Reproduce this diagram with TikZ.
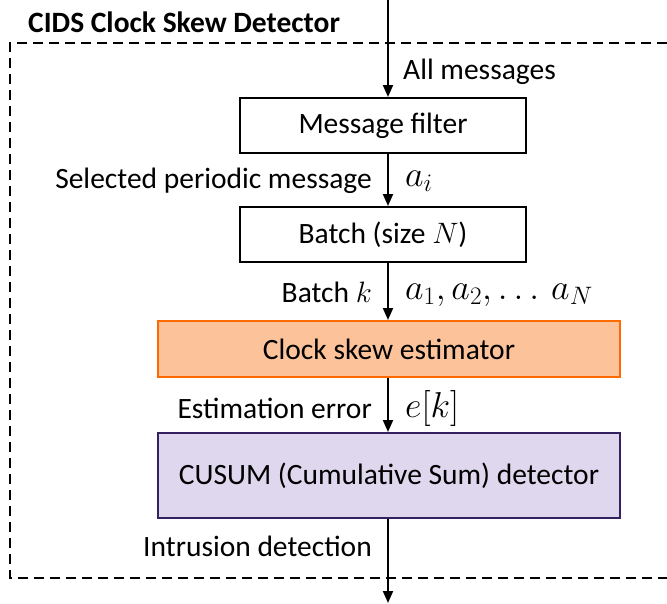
\RequirePackage{fix-cm}
\documentclass[tikz,border=0pt]{standalone}
\usepackage{fontspec}
\setmainfont{Carlito}
\usetikzlibrary{arrows.meta}
\definecolor{orfill}{RGB}{252,194,154}
\definecolor{ordraw}{RGB}{255,106,0}
\definecolor{pufill}{RGB}{222,215,238}
\definecolor{pudraw}{RGB}{52,34,96}
\tikzset{
  stepbox/.style={draw=black, line width=2pt, fill=white, inner sep=0pt, font=\fontsize{29.5}{34}\selectfont},
  lbl/.style={inner sep=0pt, font=\fontsize{29.5}{34}\selectfont},
  mlbl/.style={inner sep=0pt, font=\fontsize{36}{40}\selectfont},
  flow/.style={line width=2pt, -{Triangle[length=12pt,width=10pt]}},
}
\begin{document}
\begin{tikzpicture}[x=1pt,y=-1pt]
\useasboundingbox (0,0) rectangle (667,603);
% title
\node[inner sep=0pt, anchor=west, font=\fontsize{29.5}{34}\selectfont\bfseries] (title) at (28,22) {CIDS Clock Skew Detector};
% dashed frame
\draw[line width=2pt, dash pattern=on 10pt off 6pt] (667,43) -- (10,43) -- (10,578) -- (667,578);
% boxes
\node[stepbox, minimum width=286pt, minimum height=55pt] (filter) at (383,125.5) {Message filter};
\node[stepbox, minimum width=286pt, minimum height=55pt] (batch) at (383,234.5) {Batch (size $N$)};
\node[stepbox, draw=ordraw, fill=orfill, minimum width=462pt, minimum height=56pt] (est) at (389,349) {Clock skew estimator};
\node[stepbox, draw=pudraw, fill=pufill, minimum width=462pt, minimum height=85pt] (cusum) at (389,475.5) {CUSUM (Cumulative Sum) detector};
% endpoints
\coordinate (in) at (388,0);
\coordinate (out) at (388,603);
% connectors
\draw[flow] (in) -- (in |- filter.north);
\draw[flow] (in |- filter.south) -- (in |- batch.north);
\draw[flow] (in |- batch.south) -- (in |- est.north);
\draw[flow] (in |- est.south) -- (in |- cusum.north);
\draw[flow] (in |- cusum.south) -- (out);
% labels
\node[lbl, anchor=west] (l1) at (403,72) {All messages};
\node[lbl, anchor=east] (l2) at (372,181) {Selected periodic message};
\node[mlbl, anchor=west] (l2m) at (405,181) {$a_i$};
\node[lbl, anchor=east] (l3) at (372,292) {Batch $k$};
\node[mlbl, anchor=west] (l3m) at (405,295) {$a_1, a_2, \ldots\, a_N$};
\node[lbl, anchor=east] (l4) at (372,408) {Estimation error};
\node[mlbl, anchor=west] (l4m) at (405,408) {$e[k]$};
\node[lbl, anchor=east] (l5) at (372,546) {Intrusion detection};
\end{tikzpicture}
\end{document}
